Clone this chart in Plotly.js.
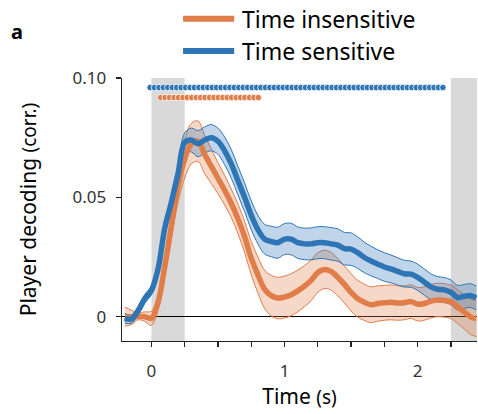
<!DOCTYPE html>
<html>
<head>
<meta charset="utf-8">
<script src="https://cdn.plot.ly/plotly-3.0.1.min.js"></script>
<style>html,body{margin:0;padding:0;background:#fff;}#chart{width:478px;height:414px;}</style>
</head>
<body>
<div id="chart"></div>
<script>
// ---- data ----
const time = [-0.20,-0.15,-0.10,-0.05,0.00,0.05,0.10,0.15,0.20,0.25,0.30,0.35,0.40,0.45,0.50,0.55,0.60,0.65,0.70,0.75,0.80,0.85,0.90,0.95,1.00,1.05,1.10,1.15,1.20,1.25,1.30,1.35,1.40,1.45,1.50,1.55,1.60,1.65,1.70,1.75,1.80,1.85,1.90,1.95,2.00,2.05,2.10,2.15,2.20,2.25,2.30,2.35,2.40,2.44];

const sensitiveMean = [-0.0007,-0.0010,0.0025,0.0075,0.0110,0.0200,0.0370,0.0480,0.0600,0.0730,0.0740,0.0725,0.0740,0.0750,0.0735,0.0695,0.0640,0.0570,0.0500,0.0425,0.0365,0.0325,0.0315,0.0310,0.0325,0.0325,0.0310,0.0305,0.0305,0.0310,0.0310,0.0305,0.0300,0.0285,0.0283,0.0268,0.0248,0.0233,0.0220,0.0208,0.0200,0.0190,0.0180,0.0178,0.0165,0.0145,0.0125,0.0115,0.0112,0.0102,0.0080,0.0085,0.0088,0.0078];
const sensitiveSem = [0.0020,0.0018,0.0018,0.0018,0.0018,0.0018,0.0020,0.0022,0.0030,0.0040,0.0050,0.0055,0.0055,0.0055,0.0055,0.0058,0.0060,0.0060,0.0060,0.0060,0.0060,0.0062,0.0064,0.0065,0.0065,0.0066,0.0066,0.0066,0.0067,0.0067,0.0067,0.0068,0.0068,0.0068,0.0068,0.0066,0.0064,0.0062,0.0060,0.0060,0.0058,0.0057,0.0056,0.0055,0.0055,0.0055,0.0054,0.0053,0.0052,0.0052,0.0051,0.0050,0.0050,0.0050];

const insensitiveMean = [0.0000,-0.0003,0.0002,0.0000,-0.0007,0.0060,0.0210,0.0380,0.0550,0.0660,0.0725,0.0735,0.0680,0.0630,0.0580,0.0530,0.0475,0.0410,0.0335,0.0245,0.0175,0.0115,0.0088,0.0078,0.0082,0.0092,0.0108,0.0128,0.0152,0.0185,0.0198,0.0190,0.0165,0.0135,0.0102,0.0075,0.0060,0.0050,0.0055,0.0058,0.0060,0.0057,0.0058,0.0063,0.0052,0.0055,0.0065,0.0070,0.0068,0.0062,0.0042,0.0020,-0.0002,-0.0008];
const insensitiveSem = [0.0040,0.0030,0.0015,0.0020,0.0030,0.0030,0.0040,0.0050,0.0070,0.0080,0.0085,0.0085,0.0080,0.0072,0.0065,0.0062,0.0060,0.0062,0.0065,0.0070,0.0075,0.0080,0.0085,0.0087,0.0088,0.0088,0.0087,0.0086,0.0085,0.0083,0.0080,0.0079,0.0078,0.0078,0.0078,0.0077,0.0076,0.0075,0.0074,0.0073,0.0073,0.0072,0.0071,0.0070,0.0070,0.0070,0.0070,0.0070,0.0070,0.0070,0.0071,0.0072,0.0074,0.0075];

// significance markers (time points)
const sigSensitiveT = [-0.01,0.023,0.057,0.09,0.123,0.157,0.19,0.223,0.257,0.29,0.323,0.357,0.39,0.423,0.457,0.49,0.523,0.557,0.59,0.623,0.657,0.69,0.723,0.757,0.79,0.823,0.857,0.89,0.923,0.957,0.99,1.023,1.057,1.09,1.123,1.157,1.19,1.223,1.257,1.29,1.323,1.357,1.39,1.423,1.457,1.49,1.523,1.557,1.59,1.623,1.657,1.69,1.723,1.757,1.79,1.823,1.857,1.89,1.923,1.957,1.99,2.023,2.057,2.09,2.123,2.157,2.19];
const sigInsensitiveT = [0.07,0.103,0.137,0.17,0.203,0.237,0.27,0.303,0.337,0.37,0.403,0.437,0.47,0.503,0.537,0.57,0.603,0.637,0.67,0.703,0.737,0.77,0.803];
const sigSensitiveLevel = 0.096;
const sigInsensitiveLevel = 0.0918;

const shadeStarts = [0, 2.25];
const shadeEnds = [0.25, 2.6];

const seriesNames = ['Time insensitive', 'Time sensitive'];
const xTickVals = [0,0.25,0.5,0.75,1,1.25,1.5,1.75,2,2.25];
const xTickText = ['0','','','','1','','','','2',''];
const yTickVals = [0,0.05,0.10];
const yTickText = ['0','0.05','0.10'];

// ---- styling ----
const BLUE = '#2E75B6';
const ORANGE = '#E07D48';
const FONT = 'Noto Sans, DejaVu Sans, sans-serif';

function band(mean, sem, color, fill) {
  const lower = mean.map((m,i)=>m-sem[i]);
  const upper = mean.map((m,i)=>m+sem[i]);
  return [
    {x: time, y: lower, type:'scatter', mode:'lines', line:{color:color,width:1,shape:'spline'}, showlegend:false, hoverinfo:'skip'},
    {x: time, y: upper, type:'scatter', mode:'lines', line:{color:color,width:1,shape:'spline'}, fill:'tonexty', fillcolor:fill, showlegend:false, hoverinfo:'skip'}
  ];
}

const traces = [
  ...band(insensitiveMean, insensitiveSem, ORANGE, 'rgba(224,125,72,0.30)'),
  ...band(sensitiveMean, sensitiveSem, BLUE, 'rgba(46,117,182,0.30)'),
  {x: time, y: insensitiveMean, type:'scatter', mode:'lines', name: seriesNames[0], line:{color:ORANGE,width:5.5,shape:'spline'}, showlegend:false},
  {x: time, y: sensitiveMean, type:'scatter', mode:'lines', name: seriesNames[1], line:{color:BLUE,width:5.5,shape:'spline'}, showlegend:false},
  {x: sigSensitiveT, y: sigSensitiveT.map(()=>sigSensitiveLevel), type:'scatter', mode:'markers', marker:{color:BLUE,size:6.5,line:{color:'#fff',width:0.8}}, showlegend:false},
  {x: sigInsensitiveT, y: sigInsensitiveT.map(()=>sigInsensitiveLevel), type:'scatter', mode:'markers', marker:{color:ORANGE,size:6.5,line:{color:'#fff',width:0.8}}, showlegend:false}
];

const shapes = shadeStarts.map((s,i)=>({type:'rect', xref:'x', yref:'paper', x0:s, x1:shadeEnds[i], y0:0, y1:1, fillcolor:'#d9d9d9', line:{width:0}, layer:'below'}));
// legend samples
shapes.push({type:'line', xref:'paper', yref:'paper', x0:0.172, x1:0.316, y0:1.225, y1:1.225, line:{color:ORANGE,width:6}});
shapes.push({type:'line', xref:'paper', yref:'paper', x0:0.172, x1:0.316, y0:1.103, y1:1.103, line:{color:BLUE,width:6}});

const annotations = [
  {xref:'paper', yref:'paper', x:0.333, y:1.225, xanchor:'left', yanchor:'middle', text:seriesNames[0], showarrow:false, font:{family:FONT,size:23,color:'#000'}},
  {xref:'paper', yref:'paper', x:0.333, y:1.103, xanchor:'left', yanchor:'middle', text:seriesNames[1], showarrow:false, font:{family:FONT,size:23,color:'#000'}},
  {xref:'paper', yref:'paper', x:-0.318, y:1.178, xanchor:'left', yanchor:'middle', text:'<b>a</b>', showarrow:false, font:{family:FONT,size:20,color:'#000'}}
];

const layout = {
  width:478, height:414,
  margin:{l:122, r:1, t:78, b:73},
  paper_bgcolor:'#fff', plot_bgcolor:'#fff',
  font:{family:FONT, color:'#333'},
  showlegend:false,
  xaxis:{
    range:[-0.221, 2.446], tickvals:xTickVals, ticktext:xTickText,
    ticks:'outside', ticklen:5, tickwidth:1.2, tickcolor:'#222',
    showline:true, linecolor:'#222', linewidth:1.4, mirror:false,
    showgrid:false, zeroline:false, ticklabelstandoff:9,
    tickfont:{family:FONT,size:17,color:'#333'},
    title:{text:'Time <span style="font-size:19px">(s)</span>', font:{family:FONT,size:21,color:'#000'}, standoff:3}
  },
  yaxis:{
    range:[-0.0102, 0.1], tickvals:yTickVals, ticktext:yTickText,
    ticks:'outside', ticklen:5, tickwidth:1.2, tickcolor:'#222',
    showline:true, linecolor:'#222', linewidth:1.4,
    showgrid:false, zeroline:true, zerolinecolor:'#000', zerolinewidth:1.2,
    ticklabelstandoff:6,
    tickfont:{family:FONT,size:17,color:'#333'},
    title:{text:'Player decoding <span style="font-size:19px">(corr.)</span>', font:{family:FONT,size:21,color:'#000'}, standoff:30}
  },
  shapes:shapes,
  annotations:annotations
};

Plotly.newPlot('chart', traces, layout, {staticPlot:true, displayModeBar:false});
</script>
</body>
</html>
